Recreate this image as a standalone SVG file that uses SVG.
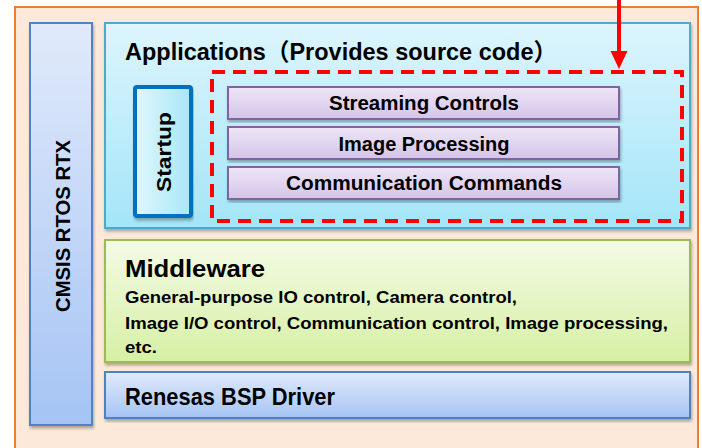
<svg xmlns="http://www.w3.org/2000/svg" width="702" height="448" viewBox="0 0 702 448">
<defs>
<linearGradient id="gBlue" x1="0" y1="0" x2="0" y2="1"><stop offset="0" stop-color="#E1EAFB"/><stop offset="1" stop-color="#A5C4F4"/></linearGradient>
<linearGradient id="gCyan" x1="0" y1="0" x2="0" y2="1"><stop offset="0" stop-color="#DDF5FD"/><stop offset="1" stop-color="#A3E5F8"/></linearGradient>
<linearGradient id="gStart" x1="0" y1="0" x2="1" y2="0"><stop offset="0" stop-color="#E0F7FD"/><stop offset="1" stop-color="#A6E7F8"/></linearGradient>
<linearGradient id="gPurple" x1="0" y1="0" x2="0" y2="1"><stop offset="0" stop-color="#EEE6F6"/><stop offset="1" stop-color="#D4C4E9"/></linearGradient>
<linearGradient id="gGreen" x1="0" y1="0" x2="0" y2="1"><stop offset="0" stop-color="#F4FBE6"/><stop offset="1" stop-color="#D6F0A4"/></linearGradient>
<filter id="sh" x="-5%" y="-5%" width="110%" height="115%"><feDropShadow dx="1" dy="2.5" stdDeviation="1.5" flood-color="#000" flood-opacity="0.3"/></filter>
<marker id="ah" markerUnits="userSpaceOnUse" markerWidth="18" markerHeight="18" viewBox="0 0 18 18" refX="17" refY="9" orient="auto" overflow="visible"><path d="M0,0 L18,9 L0,18 Z" fill="#FF0000"/></marker>
</defs>
<style>
text{font-family:"Liberation Sans","Noto Sans CJK JP",Arial,sans-serif;font-weight:bold;fill:#000;}
.t21{font-size:24px;}
.t17{font-size:20px;}
.t15{font-size:17px;}
.mid{text-anchor:middle;}
</style>
<rect x="15" y="7" width="683" height="450" fill="#FCE9DA" stroke="#ED7D31" stroke-width="2"/>
<g id="cmsis">
<rect x="30" y="23" width="62" height="402" fill="url(#gBlue)" stroke="#5183C2" stroke-width="2" filter="url(#sh)"/>
<text class="t17 mid" transform="translate(70,226) rotate(-90)" textLength="172" lengthAdjust="spacingAndGlyphs" style="font-size:21px">CMSIS RTOS RTX</text>
</g>
<g id="applications">
<rect x="105" y="23" width="585" height="205" fill="url(#gCyan)" stroke="#4BACC6" stroke-width="2" filter="url(#sh)"/>
<text class="t21" x="125" y="60" textLength="432" lengthAdjust="spacingAndGlyphs">Applications（Provides source code）</text>
</g>
<g id="startup">
<rect x="135" y="87" width="56" height="129" rx="2" fill="url(#gStart)" stroke="#0070C0" stroke-width="4" filter="url(#sh)"/>
<text class="t17 mid" transform="translate(171,152) rotate(-90)" textLength="80" lengthAdjust="spacingAndGlyphs">Startup</text>
</g>
<g id="streaming">
<rect x="228" y="87" width="391" height="32" fill="url(#gPurple)" stroke="#8064A2" stroke-width="2" filter="url(#sh)"/>
<text class="t17 mid" x="424" y="110" textLength="190" lengthAdjust="spacingAndGlyphs">Streaming Controls</text>
</g>
<g id="imageproc">
<rect x="228" y="127" width="391" height="32" fill="url(#gPurple)" stroke="#8064A2" stroke-width="2" filter="url(#sh)"/>
<text class="t17 mid" x="424" y="151" textLength="171" lengthAdjust="spacingAndGlyphs">Image Processing</text>
</g>
<g id="comm">
<rect x="228" y="167" width="391" height="32" fill="url(#gPurple)" stroke="#8064A2" stroke-width="2" filter="url(#sh)"/>
<text class="t17 mid" x="424" y="190" textLength="276" lengthAdjust="spacingAndGlyphs">Communication Commands</text>
</g>
<g id="highlight">
<rect x="212" y="72" width="470" height="149" fill="none" stroke="#FF0000" stroke-width="4" stroke-dasharray="13 8"/>
</g>
<g id="middleware">
<rect x="105" y="240" width="585" height="122" fill="url(#gGreen)" stroke="#9BBB59" stroke-width="2" filter="url(#sh)"/>
<text class="t21" x="125" y="277" textLength="140" lengthAdjust="spacingAndGlyphs">Middleware</text>
<text class="t15" x="125" y="303" textLength="392" lengthAdjust="spacingAndGlyphs">General-purpose IO control, Camera control,</text>
<text class="t15" x="125" y="329" textLength="543" lengthAdjust="spacingAndGlyphs">Image I/O control, Communication control, Image processing,</text>
<text class="t15" x="125" y="353" textLength="32" lengthAdjust="spacingAndGlyphs">etc.</text>
</g>
<g id="bsp">
<rect x="105" y="372" width="585" height="46" fill="url(#gBlue)" stroke="#4F81BD" stroke-width="2" filter="url(#sh)"/>
<text class="t21" x="125" y="405" textLength="210" lengthAdjust="spacingAndGlyphs">Renesas BSP Driver</text>
</g>
<g id="connectors">
<line x1="619" y1="0" x2="619" y2="56" stroke="#FF0000" stroke-width="4"/>
<path d="M610.5,51 L627.5,51 L619,69 Z" fill="#FF0000"/>
</g>
</svg>
